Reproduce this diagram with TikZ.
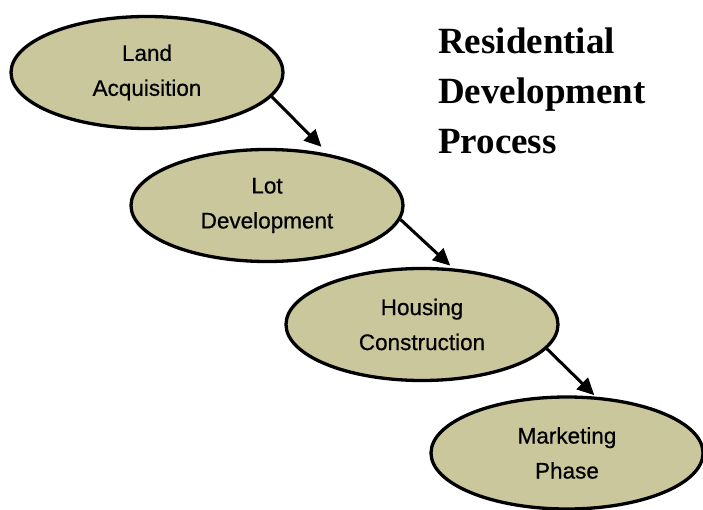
\documentclass[tikz,border=0pt]{standalone}
\usepackage{fontspec}
\usepackage{xcolor}
\usepackage{tikz}
\usetikzlibrary{arrows.meta, shapes.geometric}
\setmainfont{Liberation Serif}
\newfontfamily\stepfont[FakeBold=0.6]{Liberation Sans}
\definecolor{olivefill}{RGB}{201,199,155}

\begin{document}
\begin{tikzpicture}[x=1pt, y=-1pt,
		phase/.style={ellipse, draw=black, line width=3.3pt, fill=olivefill,
			minimum width=272pt, minimum height=112pt, inner sep=0pt,
			align=center, font=\stepfont\fontsize{22.5}{35}\selectfont,
			execute at begin node=\rule{0pt}{23pt}},
		flow/.style={line width=3pt, -{Triangle[length=17pt, width=16pt]}}]
			\useasboundingbox (0,0) rectangle (703,510);
			
			% phases (centres)
			\node[phase] (land) at (147,72.5) {Land\\Acquisition};
			\node[phase] (lot) at (267,205.5) {Lot\\Development};
			\node[phase] (housing) at (422,324.5) {Housing\\Construction};
			\node[phase] (marketing) at (567,453) {Marketing\\Phase};
			
			% arrows between phases
			\draw[flow, shorten >=10pt] (land.-11) -- (lot.40);
			\draw[flow, shorten >=4pt] (lot.-6) -- (housing.61);
			\draw[flow, shorten >=2pt] (housing.-11) -- (marketing.63);
			
			% title
			\node[anchor=north west, inner sep=0pt, align=left,
				font=\bfseries\fontsize{37}{50}\selectfont] (title) at (438,28)
				{Residential\\Development\\Process};
		\end{tikzpicture}
\end{document}
